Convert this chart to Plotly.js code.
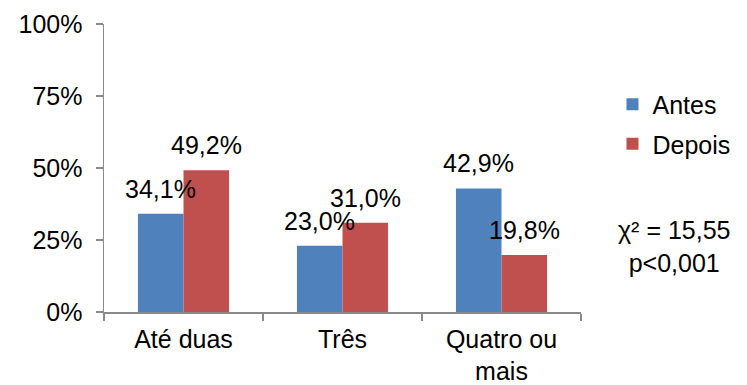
<!DOCTYPE html>
<html>
<head>
<meta charset="utf-8">
<script src="https://cdn.plot.ly/plotly-3.0.1.min.js"></script>
<style>html,body{margin:0;padding:0;background:#fff;}#chart{width:747px;height:385px;}</style>
</head>
<body>
<div id="chart"></div>
<script>
const categories = ["Até duas", "Três", "Quatro ou<br>mais"];
const antes = [34.1, 23.0, 42.9];
const depois = [49.2, 31.0, 19.8];
const seriesNames = ["Antes", "Depois"];
const yTicks = [0, 25, 50, 75, 100];
const yTickLabels = ["0%", "25%", "50%", "75%", "100%"];
const statText = "χ² = 15,55<br>p<0,001";

const FONT = "Liberation Sans, Arial, sans-serif";
const FS = 25;
const axisColor = "#898989";
const BARGAP = 0.427;
const plotW = 747 - 104 - 156;
const barOffset = plotW / categories.length * (1 - BARGAP) / 4;

function fmt(v) { return v.toFixed(1).replace(".", ",") + "%"; }

const traces = [
  {type: "bar", name: seriesNames[0], x: categories, y: antes, legendgroup: "a",
   marker: {color: "#4F81BD"}, hoverinfo: "none"},
  {type: "bar", name: seriesNames[1], x: categories, y: depois, legendgroup: "b",
   marker: {color: "#C0504D"}, hoverinfo: "none"}
];

const labelAnns = [];
categories.forEach((c, i) => {
  [[antes, -1], [depois, 1]].forEach(([arr, s]) => {
    labelAnns.push({xref: "x", yref: "y", x: c, y: arr[i], xshift: s * barOffset, yshift: 9,
      xanchor: "center", yanchor: "bottom", text: fmt(arr[i]), showarrow: false,
      font: {family: FONT, size: FS, color: "#000"}});
  });
});

const layout = {
  width: 747, height: 385,
  margin: {l: 104, r: 156, t: 24, b: 73, pad: 0},
  paper_bgcolor: "#fff", plot_bgcolor: "#fff",
  font: {family: FONT, size: FS, color: "#000"},
  separators: ",.",
  barmode: "group",
  bargap: BARGAP, bargroupgap: 0,
  xaxis: {type: "category", showline: true, linecolor: axisColor, linewidth: 1.5,
          ticks: "outside", tickson: "boundaries", ticklen: 7, tickcolor: axisColor, tickwidth: 1.5,
          showgrid: false, zeroline: false, ticklabelstandoff: 4,
          tickfont: {family: FONT, size: FS, color: "#000"}},
  yaxis: {range: [0, 100], tickvals: yTicks, ticktext: yTickLabels, showline: true, linecolor: axisColor, linewidth: 1.5,
          ticks: "outside", ticklen: 7, tickcolor: axisColor, tickwidth: 1.5,
          showgrid: false, zeroline: false, ticklabelstandoff: 8,
          tickfont: {family: FONT, size: FS, color: "#000"}},
  showlegend: true,
  legend: {x: 1.066, xanchor: "left", y: 0.80, yanchor: "top", traceorder: "grouped",
           tracegroupgap: 4, font: {family: FONT, size: FS, color: "#000"},
           bgcolor: "rgba(0,0,0,0)", borderwidth: 0},
  annotations: labelAnns.concat([{xref: "paper", yref: "paper", x: 1.195, y: 0.226, xanchor: "center", yanchor: "middle",
                 text: statText, showarrow: false, align: "center",
                 font: {family: FONT, size: FS, color: "#000"}}])
};

Plotly.newPlot("chart", traces, layout, {staticPlot: true, displayModeBar: false});
</script>
</body>
</html>
